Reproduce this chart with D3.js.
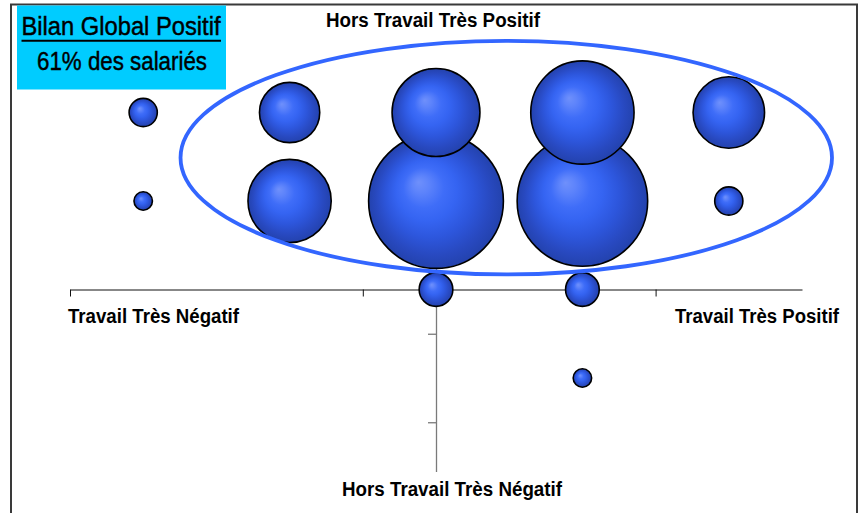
<!DOCTYPE html>
<html>
<head>
<meta charset="utf-8">
<script src="https://cdn.jsdelivr.net/npm/d3@7"></script>
<style>
  html, body { margin: 0; padding: 0; background: #fff; }
  svg { display: block; }
  text { font-family: "Liberation Sans Narrow", "Arial Narrow", "Liberation Sans", Arial, sans-serif; font-stretch: condensed; font-weight: bold; fill: #000; }
  text.title { font-weight: normal; stroke: #000; stroke-width: 0.45px; }
</style>
</head>
<body>
<script>
// ---- data ----
const bubbleX    = [1, 2, 3, 4, 5,   1, 2, 3,  4,  5,   3, 4,   4];
const bubbleY    = [5, 5, 5, 5, 5,   4, 4, 4,  4,  4,   3, 3,   2];
const bubbleSize = [0.7, 3.2, 6.8, 9.4, 4.5,   0.3, 6.1, 16.0, 15.0, 0.7,   1.0, 1.0,   0.3];
const xTicks = [0.5, 2.5, 4.5];
const yTicks = [5.5, 4.5, 3.5, 2.5, 1.5, 0.5];
const axisLabels = ["Hors Travail Très Positif", "Travail Très Négatif", "Travail Très Positif", "Hors Travail Très Négatif"];
const titleLines = ["Bilan Global Positif", "61% des salariés"];
// highlighted zone (data units): center x, center y, radius x, radius y
const zone = { cx: 3.48, cy: 4.49, rx: 2.225, ry: 1.32 };

const W = 863, H = 513;
const svg = d3.select("body").append("svg").attr("width", W).attr("height", H);

const x = d3.scaleLinear().domain([0.5, 5.5]).range([70, 802]);
const y = d3.scaleLinear().domain([0.5, 5.5]).range([510.75, 68.25]);
const r = d3.scaleSqrt().domain([0, 16]).range([0, 67.4]);

// gradient
const defs = svg.append("defs");
const grad = defs.append("radialGradient").attr("id", "ball")
  .attr("cx", 0.5).attr("cy", 0.5).attr("r", 0.5).attr("fx", 0.37).attr("fy", 0.36);
[[0, "#6f90fb"], [0.12, "#5e84fb"], [0.3, "#3f6df8"], [0.45, "#3564f2"], [0.65, "#2d56dc"], [0.85, "#2849c0"], [1, "#2342ad"]]
  .forEach(([o, c]) => grad.append("stop").attr("offset", o).attr("stop-color", c));

// frame
svg.append("rect").attr("x", 11).attr("y", 4.5).attr("width", 846).attr("height", 530)
  .attr("fill", "none").attr("stroke", "#3a3a3a").attr("stroke-width", 2);

// axes
const xAxis = d3.axisBottom(x).tickValues(xTicks).tickSize(7).tickFormat("").tickSizeOuter(0);
svg.append("g").attr("transform", `translate(0,${y(3)})`).call(xAxis)
  .call(g => g.selectAll("path, line").attr("stroke", "#111").attr("stroke-width", 1));
const yAxis = d3.axisLeft(y).tickValues(yTicks).tickSize(8).tickFormat("").tickSizeOuter(0);
svg.append("g").attr("transform", `translate(${x(3)},0)`).call(yAxis)
  .call(g => g.selectAll("path, line").attr("stroke", "#7a7a7a").attr("stroke-width", 1.3));

// bubbles
const pts = bubbleX.map((v, i) => ({ x: v, y: bubbleY[i], s: bubbleSize[i] }))
  .sort((a, b) => b.s - a.s);
svg.append("g").selectAll("circle").data(pts).join("circle")
  .attr("cx", d => x(d.x)).attr("cy", d => y(d.y)).attr("r", d => r(d.s))
  .attr("fill", "url(#ball)").attr("stroke", "#000").attr("stroke-width", 1.6);

// highlighted ellipse
svg.append("ellipse")
  .attr("cx", x(zone.cx)).attr("cy", y(zone.cy))
  .attr("rx", x(zone.cx + zone.rx) - x(zone.cx)).attr("ry", y(zone.cy) - y(zone.cy + zone.ry))
  .attr("fill", "none").attr("stroke", "#3366ff").attr("stroke-width", 3.8);

// axis labels
function label(txt, px, py, anchor, len, bg) {
  const t = svg.append("text").attr("x", px).attr("y", py).attr("text-anchor", anchor)
    .attr("font-size", 20).attr("textLength", len).attr("lengthAdjust", "spacingAndGlyphs").text(txt);
  if (bg) {
    const b = t.node().getBBox();
    svg.insert("rect", () => t.node()).attr("x", b.x - 4).attr("y", b.y - 6)
      .attr("width", b.width + 8).attr("height", b.height + 20).attr("fill", "#fff");
  }
  return t;
}
label(axisLabels[0], 433, 27, "middle", 214);
label(axisLabels[1], 68, 323, "start", 171);
label(axisLabels[2], 839, 323, "end", 164);
label(axisLabels[3], 452, 496, "middle", 220, true);

// title box
svg.append("rect").attr("x", 17).attr("y", 5.5).attr("width", 209).attr("height", 84).attr("fill", "#00ccff");
svg.append("text").attr("class", "title").attr("x", 121).attr("y", 35).attr("text-anchor", "middle")
  .attr("font-size", 26).attr("textLength", 199).attr("lengthAdjust", "spacingAndGlyphs")
  .text(titleLines[0]);
svg.append("line").attr("x1", 21.5).attr("x2", 221).attr("y1", 40.8).attr("y2", 40.8)
  .attr("stroke", "#000").attr("stroke-width", 2);
svg.append("text").attr("class", "title").attr("x", 122).attr("y", 70).attr("text-anchor", "middle")
  .attr("font-size", 26).attr("textLength", 170).attr("lengthAdjust", "spacingAndGlyphs")
  .text(titleLines[1]);
</script>
</body>
</html>
